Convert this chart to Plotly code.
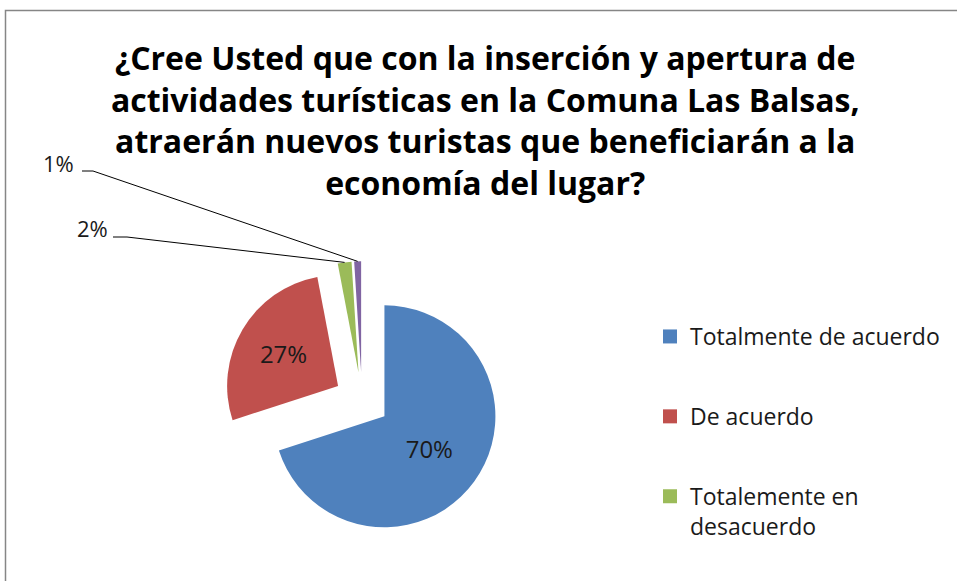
import math
import plotly.graph_objects as go

# ---- data ----
categories = ["Totalmente de acuerdo", "De acuerdo", "Totalemente en desacuerdo", "En desacuerdo"]
legend_labels = ["Totalmente de acuerdo", "De acuerdo", "Totalemente en<br>desacuerdo"]
values = [70, 27, 2, 1]
colors = ["#4F81BD", "#C0504D", "#9BBB59", "#8064A2"]
title_lines = [
    "¿Cree Usted que con la inserción y apertura de",
    "actividades turísticas en la Comuna Las Balsas,",
    "atraerán nuevos turistas que beneficiarán a la",
    "economía del lugar?",
]

W, H = 957, 581
FONT = "Open Sans, sans-serif"
TEXT_COLOR = "#1a1a1a"
PULL = 0.25
dom_x = [0.2333, 0.5232]
dom_y = [0.0727, 0.5503]

total = sum(values)
pct = [f"{round(v / total * 100)}%" for v in values]
inside_tmpl = ["%{percent:.0%}" if v / total > 0.05 else "" for v in values]

fig = go.Figure()
fig.add_trace(go.Pie(
    labels=categories, values=values, sort=False, direction="clockwise", rotation=0,
    pull=[PULL] * len(values),
    marker=dict(colors=colors, line=dict(width=0)),
    texttemplate=inside_tmpl, textposition="inside", insidetextorientation="horizontal",
    insidetextfont=dict(family=FONT, size=24, color=TEXT_COLOR),
    domain=dict(x=dom_x, y=dom_y), showlegend=False, hoverinfo="label+percent",
))

# legend entries (first three categories, as visible in the reference)
for lab, col in zip(legend_labels, colors[:3]):
    fig.add_trace(go.Scatter(x=[None], y=[None], mode="markers", name=lab, legendgroup=lab,
                             marker=dict(symbol="square", size=14, color=col)))

# geometry of the pie (same rules plotly uses) for leader lines of small slices
box_w = W * (dom_x[1] - dom_x[0])
box_h = H * (dom_y[1] - dom_y[0])
r = min(box_w, box_h) / (2 + 2 * PULL)
cx = W * (dom_x[0] + dom_x[1]) / 2
cy = H * (1 - (dom_y[0] + dom_y[1]) / 2)

label_pos = {2: (92, 228, 113, 127, 237), 3: (58, 163, 82, 93, 171)}
shapes = []
annotations = []
cum = 0
for i, v in enumerate(values):
    mid = (cum + v / 2) / total * 2 * math.pi
    cum += v
    if i in label_pos:
        tx = cx + r * (1 + PULL) * math.sin(mid)
        ty = cy - r * (1 + PULL) * math.cos(mid)
        lx, ly, ex0, ex1, ey = label_pos[i]
        path = (f"M {ex0 / W},{1 - ey / H} L {ex1 / W},{1 - ey / H} "
                f"L {tx / W},{1 - ty / H}")
        shapes.append(dict(type="path", xref="paper", yref="paper", path=path,
                           line=dict(color="#000000", width=1)))
        annotations.append(dict(x=lx / W, y=1 - ly / H, xref="paper", yref="paper",
                                xanchor="center", yanchor="middle",
                                text=pct[i], showarrow=False,
                                font=dict(family=FONT, size=22, color=TEXT_COLOR)))

# chart frame
shapes.append(dict(type="rect", xref="paper", yref="paper", x0=5.5 / W, x1=1.02,
                   y0=-0.02, y1=1 - 10.5 / H, line=dict(color="#868686", width=1.5),
                   fillcolor="rgba(0,0,0,0)", layer="below"))

fig.update_layout(
    width=W, height=H,
    margin=dict(l=0, r=0, t=0, b=0),
    paper_bgcolor="white", plot_bgcolor="white",
    title=dict(text="<br>".join(title_lines), x=0.507, xanchor="center",
               y=1 - 70 / H, yanchor="top", yref="container",
               font=dict(family=FONT, size=32, color="#000000", weight="bold")),
    xaxis=dict(visible=False), yaxis=dict(visible=False),
    legend=dict(x=650 / W, xanchor="left", y=1 - 315 / H, yanchor="top",
                font=dict(family=FONT, size=23, color=TEXT_COLOR),
                tracegroupgap=47, valign="top", bgcolor="rgba(0,0,0,0)"),
    shapes=shapes, annotations=annotations,
)

fig.write_html("out.html", config={"displayModeBar": False},
               post_script="document.body.style.margin='0';")
